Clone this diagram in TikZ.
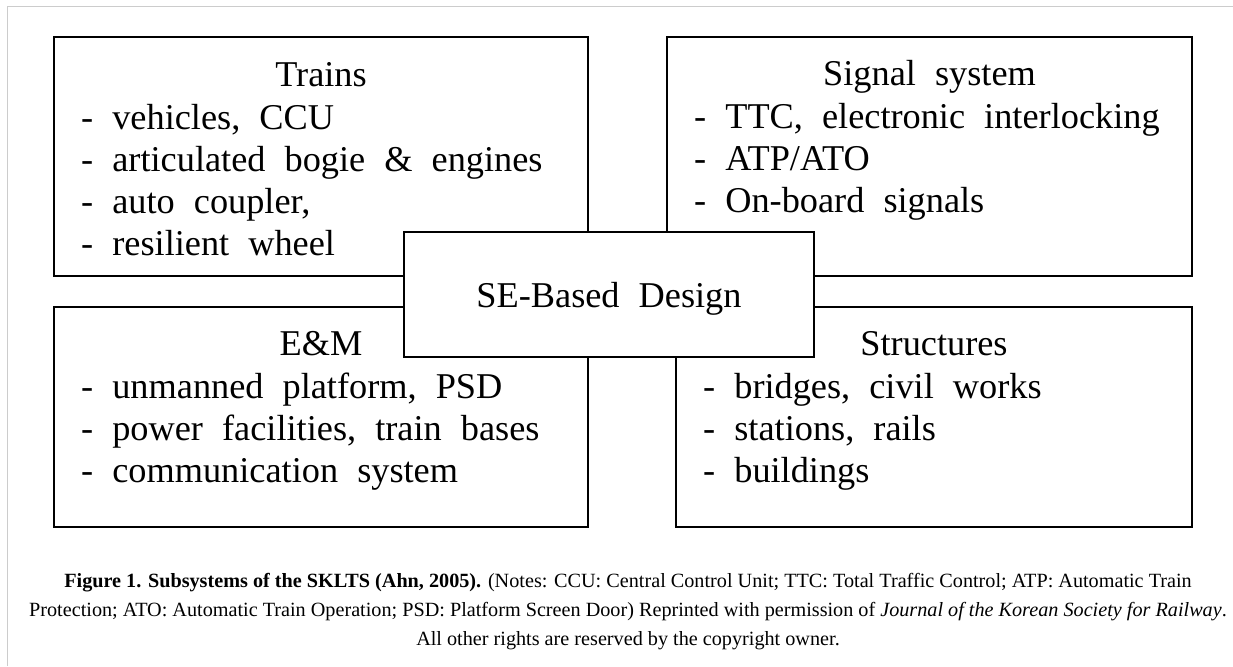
\documentclass[tikz,border=0pt]{standalone}
\usepackage{fontspec}
\setmainfont{Liberation Serif}
\newfontfamily\boxfont[WordSpace=2.1]{Liberation Serif}
\begin{document}
\begin{tikzpicture}[x=1pt,y=-1pt]
\tikzset{
  panel/.style={draw=black, line width=2.8pt, fill=white, inner sep=0pt, outer sep=0pt, anchor=north west},
  head/.style={font=\boxfont\fontsize{36.3}{42}\selectfont, inner sep=0pt, anchor=base},
  item/.style={font=\boxfont\fontsize{36.3}{42}\selectfont, inner sep=0pt, anchor=base west},
  captext/.style={font=\fontsize{20.2}{29}\selectfont, inner sep=0pt, anchor=base},
  frameline/.style={draw=black!20, line width=1pt}
}
\fill[white] (0,0) rectangle (1233,666);
\useasboundingbox (0,0) rectangle (1233,666);
\draw[frameline] (7,666) -- (7,7) -- (1233,7);

% boxes
\node[panel, minimum width=534, minimum height=239] (trains) at (54,37) {};
\node[panel, minimum width=525, minimum height=239] (signal) at (667,37) {};
\node[panel, minimum width=534, minimum height=220] (em) at (54,307) {};
\node[panel, minimum width=516, minimum height=220] (struct) at (676,307) {};

% Trains
\node[head] (trainsT) at (321,86.5) {Trains};
\node[item] (tr1) at (81,129) {- vehicles, CCU};
\node[item] (tr2) at (81,171) {- articulated bogie \& engines};
\node[item] (tr3) at (81,213) {- auto coupler,};
\node[item] (tr4) at (81,255) {- resilient wheel};

% Signal system
\node[head] (signalT) at (929.5,86) {Signal system};
\node[item] (sg1) at (694,128.5) {- TTC, electronic interlocking};
\node[item] (sg2) at (694,170.5) {- ATP/ATO};
\node[item] (sg3) at (694,212.5) {- On-board signals};

% E&M
\node[head] (emT) at (321,355) {E\&M};
\node[item] (em1) at (81,398) {- unmanned platform, PSD};
\node[item] (em2) at (81,440) {- power facilities, train bases};
\node[item] (em3) at (81,482) {- communication system};

% Structures
\node[head] (structT) at (934,355) {Structures};
\node[item] (st1) at (703,398) {- bridges, civil works};
\node[item] (st2) at (703,440) {- stations, rails};
\node[item] (st3) at (703,482) {- buildings};

% center
\node[panel, minimum width=410, minimum height=125] (center) at (404,232) {};
\node[head] (centerT) at (609,307) {SE-Based Design};

% caption
\node[captext] (cap1) at (628,587) {\textbf{Figure 1. Subsystems of the SKLTS (Ahn, 2005).} (Notes: CCU: Central Control Unit; TTC: Total Traffic Control; ATP: Automatic Train};
\node[captext] (cap2) at (628,616) {Protection; ATO: Automatic Train Operation; PSD: Platform Screen Door) Reprinted with permission of \textit{Journal of the Korean Society for Railway}.};
\node[captext] (cap3) at (628,645) {All other rights are reserved by the copyright owner.};
\end{tikzpicture}
\end{document}
